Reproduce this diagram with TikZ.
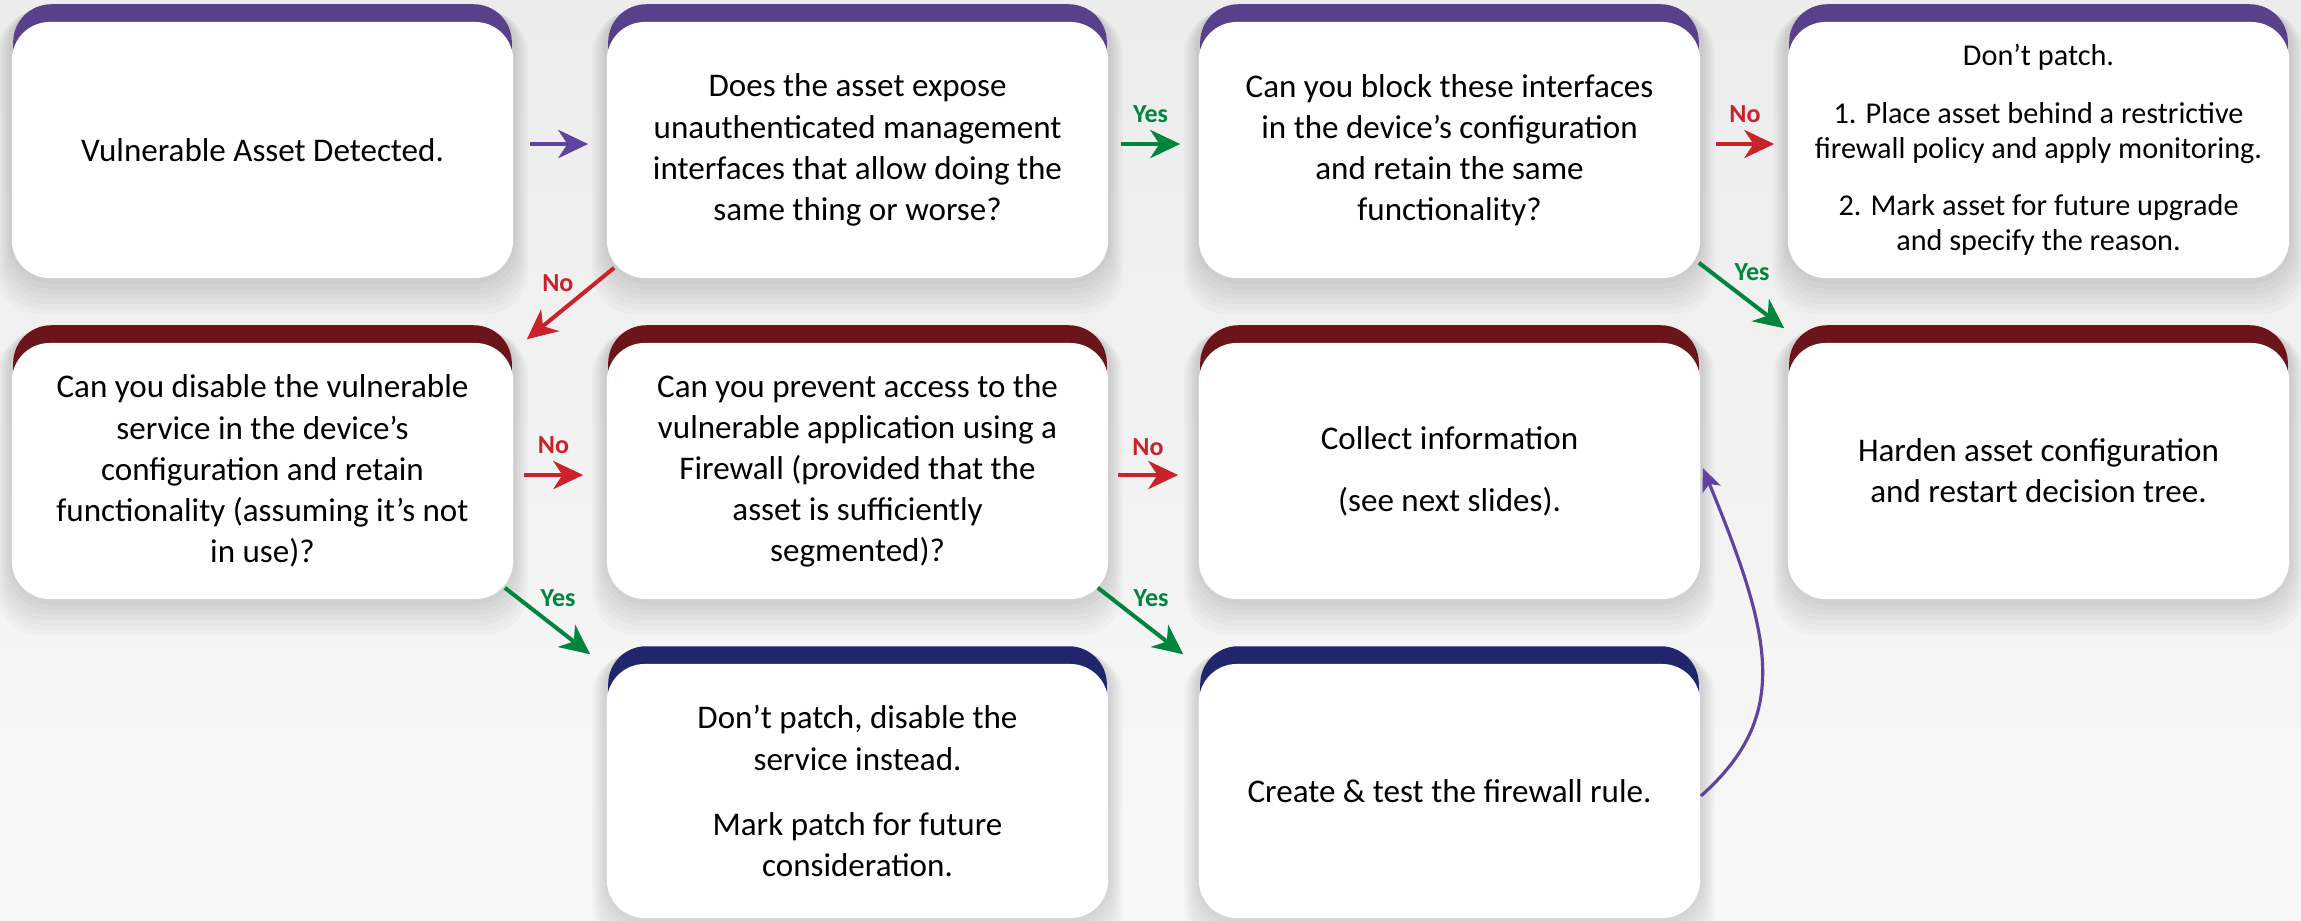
\documentclass[tikz,border=0pt]{standalone}
\usepackage{fontspec}
\setmainfont{Carlito}
\usetikzlibrary{calc,arrows.meta}
\pgfdeclarelayer{bg}
\pgfdeclarelayer{tabs}
\pgfsetlayers{bg,tabs,main}
\definecolor{tabpurple}{HTML}{58408A}
\definecolor{tabred}{HTML}{6B141A}
\definecolor{tabnavy}{HTML}{1F266E}
\definecolor{arrpurple}{HTML}{5E44A0}
\definecolor{arrred}{HTML}{C9222B}
\definecolor{arrgreen}{HTML}{00843E}
\definecolor{bgtop}{HTML}{ECECEC}
\definecolor{bgbot}{HTML}{F8F8F8}
\begin{document}
\begin{tikzpicture}[x=0.01cm, y=-0.01cm,
  card/.style={fill=white, rounded corners=0.38cm, minimum width=5.01cm, minimum height=2.56cm,
    align=center, inner sep=0pt, font=\fontsize{9.4}{11.7}\selectfont},
  cardlow/.style={card, minimum height=2.54cm},
  arr/.style={line width=1.15pt, -{Stealth[length=8.5pt,width=8pt,inset=2.6pt]}},
  lab/.style={font=\fontsize{7.4}{8}\selectfont\bfseries, inner sep=0pt},
]
\useasboundingbox (0,0) rectangle (2301,920);

% cards
\node[card] (b1) at (262.5,150) {Vulnerable Asset Detected.};
\node[card] (b2) at (857.5,150) {Does the asset expose\\unauthenticated management\\interfaces that allow doing the\\same thing or worse?};
\node[card] (b3) at (1449.5,150) {Can you block these interfaces\\in the device’s configuration\\and retain the same\\functionality?};
\node[card, font=\fontsize{8.6}{10}\selectfont] (b4) at (2038.5,150) {Don’t patch.\\[6.3pt]1. Place asset behind a restrictive\\firewall policy and apply monitoring.\\[6.3pt]2. Mark asset for future upgrade\\and specify the reason.};
\node[card] (b5) at (262.5,471) {Can you disable the vulnerable\\service in the device’s\\configuration and retain\\functionality (assuming it’s not\\in use)?};
\node[card] (b6) at (857.5,471) {Can you prevent access to the\\vulnerable application using a\\Firewall (provided that the\\asset is sufficiently\\segmented)?};
\node[card] (b7) at (1449.5,471) {Collect information\\[6pt](see next slides).};
\node[card] (b8) at (2038.5,471) {Harden asset configuration\\and restart decision tree.};
\node[cardlow] (b9) at (857.5,791) {Don’t patch, disable the\\service instead.\\[6.8pt]Mark patch for future\\consideration.};
\node[cardlow] (b10) at (1449.5,791) {Create \& test the firewall rule.};

% background and shadows
\begin{pgfonlayer}{bg}
\fill[top color=bgtop, bottom color=bgbot] (0,0) rectangle (2301,920);
\foreach \n in {b1,b2,b3,b4,b5,b6,b7,b8,b9,b10}{
  \foreach \k in {1,...,7}{
    \fill[black, opacity=0.02, rounded corners=0.42cm]
      ($(\n.north west)+(-2*\k,-17+\k)$) rectangle ($(\n.south east)+(2*\k,5*\k)$);
  }
}
\end{pgfonlayer}

% coloured tabs
\begin{pgfonlayer}{tabs}
\foreach \n/\c in {b1/tabpurple,b2/tabpurple,b3/tabpurple,b4/tabpurple,
                   b5/tabred,b6/tabred,b7/tabred,b8/tabred,
                   b9/tabnavy,b10/tabnavy}{
  \fill[\c, rounded corners=0.38cm] ($(\n.north west)+(2,-17)$) rectangle ($(\n.north east)+(-2,80)$);
}
\end{pgfonlayer}

% connectors
\draw[arr, arrpurple] ($(b1.east)+(16,-6)$) -- ($(b2.west)+(-18,-6)$);
\draw[arr, arrgreen] ($(b2.east)+(12,-6)$) -- ($(b3.west)+(-18,-6)$)
  node[lab, midway, yshift=8.5pt] (l1) {Yes};
\draw[arr, arrred] ($(b3.east)+(15,-6)$) -- ($(b4.west)+(-13,-6)$)
  node[lab, midway, yshift=8.5pt] (l2) {No};
\draw[arr, arrred] ($(b2.south west)+(8,-11)$) -- ($(b5.north east)+(13,-3)$)
  node[lab, midway, xshift=-3.6pt, yshift=5.7pt] (l3) {No};
\draw[arr, arrgreen] ($(b3.south east)+(-2,-16)$) -- ($(b8.north west)+(-3,-14)$)
  node[lab, midway, xshift=3pt, yshift=6.6pt] (l4) {Yes};
\draw[arr, arrred] ($(b5.east)+(10,4)$) -- ($(b6.west)+(-23,4)$)
  node[lab, midway, yshift=8.5pt] (l5) {No};
\draw[arr, arrred] ($(b6.east)+(9,4)$) -- ($(b7.west)+(-20,4)$)
  node[lab, midway, yshift=8pt] (l6) {No};
\draw[arr, arrgreen] ($(b5.south east)+(-9,-12)$) -- ($(b9.north west)+(-16,-9)$)
  node[lab, midway, xshift=3pt, yshift=6.5pt] (l7) {Yes};
\draw[arr, arrgreen] ($(b6.south east)+(-11,-12)$) -- ($(b10.north west)+(-15,-9)$)
  node[lab, midway, xshift=3pt, yshift=6.5pt] (l8) {Yes};
\draw[line width=0.9pt, arrpurple, -{Stealth[length=6.5pt,width=5.5pt,inset=1.6pt]}]
  ($(b10.east)+(0,5)$) .. controls +(90,-80) and +(70,170) .. ($(b7.east)+(2,-3)$);
\end{tikzpicture}
\end{document}
